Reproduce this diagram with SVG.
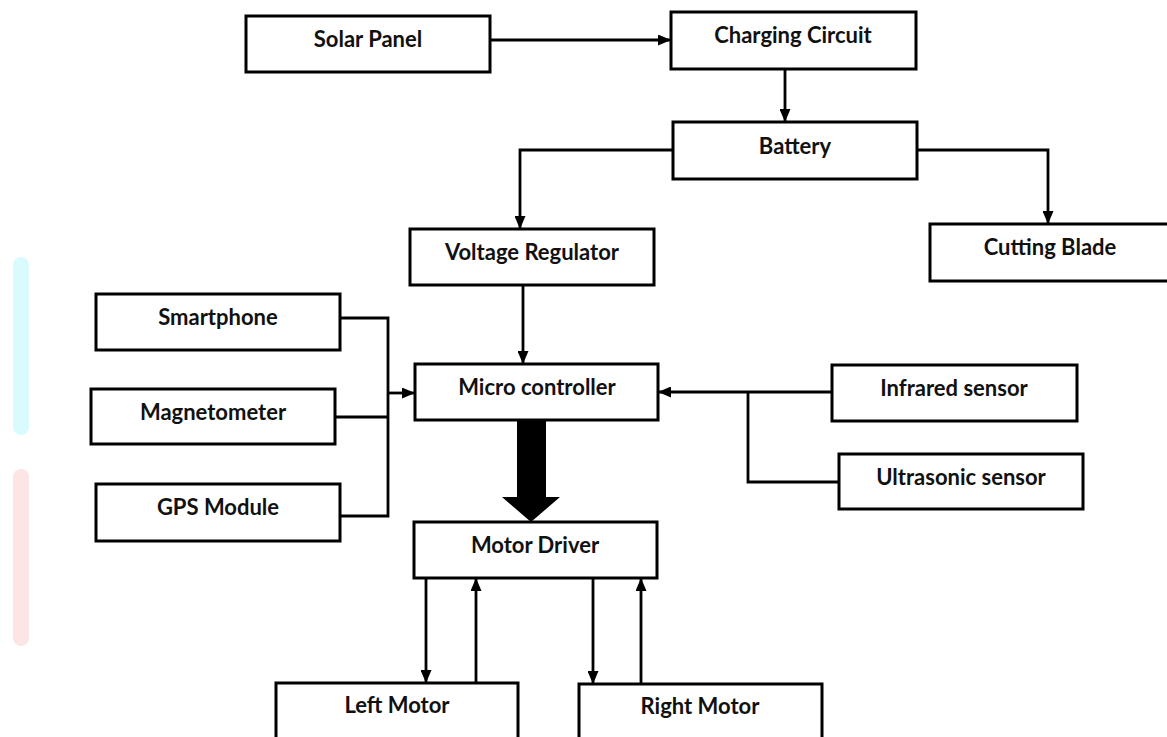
<svg xmlns="http://www.w3.org/2000/svg" width="1167" height="737" viewBox="0 0 1167 737">
<style>
.box{fill:#fff;stroke:#000;stroke-width:3}
.lbl{font-family:Lato,"Open Sans","DejaVu Sans",sans-serif;font-weight:bold;font-size:22px;fill:#111;text-anchor:middle}
.ln{fill:none;stroke:#000;stroke-width:2.8}
</style>
<defs>
<marker id="ah" markerUnits="userSpaceOnUse" markerWidth="13" markerHeight="11" refX="13" refY="5.5" orient="auto">
<path d="M0,0 L13,5.5 L0,11 z" fill="#000"/>
</marker>
</defs>
<rect width="1167" height="737" fill="#fff"/>
<rect x="13" y="257" width="16" height="178" rx="8" fill="#d9fbfd"/>
<rect x="13" y="469" width="16" height="177" rx="8" fill="#fde5e5"/>
<g id="connectors">
<line class="ln" x1="490" y1="40" x2="671" y2="40" marker-end="url(#ah)"/>
<line class="ln" x1="785" y1="69" x2="785" y2="122" marker-end="url(#ah)"/>
<polyline class="ln" points="673,150 520,150 520,229" marker-end="url(#ah)"/>
<polyline class="ln" points="917,150 1048,150 1048,224" marker-end="url(#ah)"/>
<line class="ln" x1="523" y1="285" x2="523" y2="364" marker-end="url(#ah)"/>
<polyline class="ln" points="340,318 388,318 388,516 340,516"/>
<line class="ln" x1="335" y1="417" x2="388" y2="417"/>
<line class="ln" x1="388" y1="393" x2="415" y2="393" marker-end="url(#ah)"/>
<line class="ln" x1="832" y1="392" x2="658" y2="392" marker-end="url(#ah)"/>
<polyline class="ln" points="748,392 748,482 839,482"/>
<polygon points="517,420 546,420 546,497 560,497 531,522 502,497 517,497" fill="#000"/>
<line class="ln" x1="426" y1="578" x2="426" y2="683" marker-end="url(#ah)"/>
<line class="ln" x1="476" y1="683" x2="476" y2="578" marker-end="url(#ah)"/>
<line class="ln" x1="593" y1="578" x2="593" y2="684" marker-end="url(#ah)"/>
<line class="ln" x1="641" y1="684" x2="641" y2="578" marker-end="url(#ah)"/>
</g>
<g id="solar-panel"><rect class="box" x="246" y="16" width="244" height="56"/><text class="lbl" x="368" y="47">Solar Panel</text></g>
<g id="charging-circuit"><rect class="box" x="671" y="12" width="245" height="57"/><text class="lbl" x="793" y="43">Charging Circuit</text></g>
<g id="battery"><rect class="box" x="673" y="122" width="244" height="57"/><text class="lbl" x="795" y="154">Battery</text></g>
<g id="voltage-regulator"><rect class="box" x="410" y="229" width="244" height="56"/><text class="lbl" x="532" y="260">Voltage Regulator</text></g>
<g id="cutting-blade"><rect class="box" x="930" y="224" width="250" height="57"/><text class="lbl" x="1050" y="255">Cutting Blade</text></g>
<g id="smartphone"><rect class="box" x="96" y="294" width="244" height="56"/><text class="lbl" x="218" y="325">Smartphone</text></g>
<g id="magnetometer"><rect class="box" x="91" y="389" width="244" height="55"/><text class="lbl" x="213" y="420">Magnetometer</text></g>
<g id="gps-module"><rect class="box" x="96" y="484" width="244" height="57"/><text class="lbl" x="218" y="515">GPS Module</text></g>
<g id="micro-controller"><rect class="box" x="415" y="364" width="243" height="56"/><text class="lbl" x="537" y="395">Micro controller</text></g>
<g id="infrared-sensor"><rect class="box" x="832" y="365" width="245" height="56"/><text class="lbl" x="954" y="396">Infrared sensor</text></g>
<g id="ultrasonic-sensor"><rect class="box" x="839" y="454" width="244" height="55"/><text class="lbl" x="961" y="485">Ultrasonic sensor</text></g>
<g id="motor-driver"><rect class="box" x="414" y="522" width="243" height="56"/><text class="lbl" x="535" y="553">Motor Driver</text></g>
<g id="left-motor"><rect class="box" x="276" y="683" width="242" height="70"/><text class="lbl" x="397" y="713">Left Motor</text></g>
<g id="right-motor"><rect class="box" x="579" y="684" width="243" height="70"/><text class="lbl" x="700" y="714">Right Motor</text></g>
</svg>
